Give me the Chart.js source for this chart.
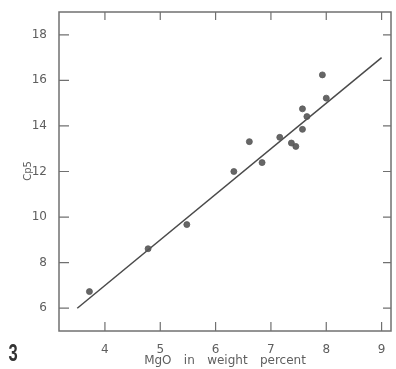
<!DOCTYPE html>
<html>
<head>
<meta charset="utf-8">
<script src="https://cdn.jsdelivr.net/npm/chart.js@4"></script>
<style>
  html, body { margin: 0; padding: 0; background: #fff; }
  #wrap { width: 396px; height: 369px; }
</style>
</head>
<body>
<div id="wrap"><canvas id="c" width="396" height="369"></canvas></div>
<script>
// MgO content (weight percent) and Cp5 for each sample
const mgo = [3.72, 4.78, 5.48, 6.33, 6.61, 6.84, 7.16, 7.37, 7.45, 7.57, 7.57, 7.65, 7.93, 8.00];
const cp5 = [6.73, 8.61, 9.67, 12.00, 13.31, 12.39, 13.50, 13.25, 13.10, 13.85, 14.75, 14.41, 16.24, 15.22];

// fitted straight line, end points
const fitX = [3.5, 9.0];
const fitY = [6.0, 17.0];

// axis ticks
const xTicks = [4, 5, 6, 7, 8, 9];
const yTicks = [6, 8, 10, 12, 14, 16, 18];

const ink = '#5e5e5e';
const tickFont = { family: 'DejaVu Sans', size: 12 };

// frame with inward tick marks on all four sides, plus titles
const framePlugin = {
  id: 'frame',
  afterDraw(chart) {
    const { ctx, chartArea: a, scales } = chart;
    ctx.save();
    ctx.strokeStyle = '#707070';
    ctx.lineWidth = 1.5;
    ctx.strokeRect(a.left, a.top, a.right - a.left, a.bottom - a.top);
    ctx.lineWidth = 1.2;
    ctx.beginPath();
    xTicks.forEach(v => {
      const px = scales.x.getPixelForValue(v);
      ctx.moveTo(px, a.bottom); ctx.lineTo(px, a.bottom - 9);
      ctx.moveTo(px, a.top); ctx.lineTo(px, a.top + 8);
    });
    yTicks.forEach(v => {
      const py = scales.y.getPixelForValue(v);
      ctx.moveTo(a.left, py); ctx.lineTo(a.left + 10, py);
      ctx.moveTo(a.right, py); ctx.lineTo(a.right - 8, py);
    });
    ctx.stroke();

    ctx.fillStyle = ink;
    // y title
    ctx.save();
    ctx.translate(28, 171);
    ctx.rotate(-Math.PI / 2);
    ctx.font = '10px "DejaVu Sans"';
    ctx.textAlign = 'center';
    ctx.textBaseline = 'middle';
    ctx.fillText('Cp5', 0, 0);
    ctx.restore();

    // x title
    ctx.font = '12px "DejaVu Sans"';
    ctx.textAlign = 'center';
    ctx.textBaseline = 'middle';
    if ('wordSpacing' in ctx) ctx.wordSpacing = '8.5px';
    ctx.fillText('MgO in weight percent', 225, 361);
    if ('wordSpacing' in ctx) ctx.wordSpacing = '0px';

    // figure number
    ctx.save();
    ctx.translate(13, 355);
    ctx.scale(0.72, 1);
    ctx.fillStyle = '#333';
    ctx.font = 'bold 23px "Liberation Sans"';
    ctx.textAlign = 'center';
    ctx.textBaseline = 'middle';
    ctx.fillText('3', 0, 0);
    ctx.restore();
    ctx.restore();
  }
};

new Chart(document.getElementById('c'), {
  type: 'scatter',
  data: {
    datasets: [
      {
        label: 'samples',
        data: mgo.map((x, i) => ({ x, y: cp5[i] })),
        pointRadius: 3,
        pointBackgroundColor: 'rgba(85,85,85,0.9)',
        pointBorderColor: 'rgba(90,90,90,0.8)',
        pointBorderWidth: 1
      },
      {
        label: 'fit',
        type: 'line',
        data: fitX.map((x, i) => ({ x, y: fitY[i] })),
        borderColor: '#4a4a4a',
        borderWidth: 1.5,
        pointRadius: 0,
        fill: false
      }
    ]
  },
  options: {
    responsive: false,
    animation: false,
    layout: { padding: { top: 12, right: 1, left: 0, bottom: 0 } },
    plugins: { legend: { display: false }, tooltip: { enabled: false } },
    scales: {
      x: {
        type: 'linear',
        min: 3.17,
        max: 9.17,
        grid: { display: false },
        border: { display: false },
        afterBuildTicks: s => { s.ticks = xTicks.map(v => ({ value: v })); },
        afterFit: s => { s.height = 38; },
        ticks: { color: ink, font: tickFont, padding: 4, maxRotation: 0 }
      },
      y: {
        type: 'linear',
        min: 5,
        max: 19,
        grid: { display: false },
        border: { display: false },
        afterBuildTicks: s => { s.ticks = yTicks.map(v => ({ value: v })); },
        afterFit: s => { s.width = 59; },
        ticks: { color: ink, font: tickFont, padding: 4 }
      }
    }
  },
  plugins: [framePlugin]
});
</script>
</body>
</html>
